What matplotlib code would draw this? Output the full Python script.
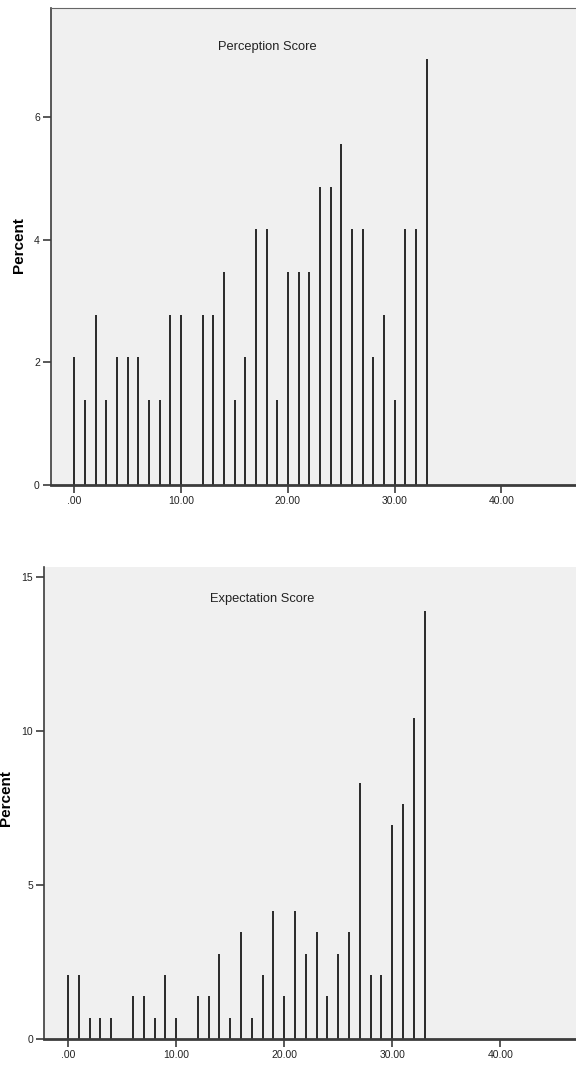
import matplotlib
matplotlib.use("Agg")
import matplotlib.pyplot as plt

# score values (0..33) and percent of cases
scores_p = [0, 1, 2, 3, 4, 5, 6, 7, 8, 9, 10, 12, 13, 14, 15, 16, 17, 18, 19, 20,
            21, 22, 23, 24, 25, 26, 27, 28, 29, 30, 31, 32, 33]
perception_pct = [2.08, 1.39, 2.78, 1.39, 2.08, 2.08, 2.08, 1.39, 1.39, 2.78, 2.78,
                  2.78, 2.78, 3.47, 1.39, 2.08, 4.17, 4.17, 1.39, 3.47, 3.47, 3.47,
                  4.86, 4.86, 5.56, 4.17, 4.17, 2.08, 2.78, 1.39, 4.17, 4.17, 6.94]

scores_e = [0, 1, 2, 3, 4, 6, 7, 8, 9, 10, 12, 13, 14, 15, 16, 17, 18, 19, 20,
            21, 22, 23, 24, 25, 26, 27, 28, 29, 30, 31, 32, 33]
expectation_pct = [2.08, 2.08, 0.69, 0.69, 0.69, 1.39, 1.39, 0.69, 2.08, 0.69,
                   1.39, 1.39, 2.78, 0.69, 3.47, 0.69, 2.08, 4.17, 1.39, 4.17,
                   2.78, 3.47, 1.39, 2.78, 3.47, 8.33, 2.08, 2.08, 6.94, 7.64,
                   10.42, 13.89]

x_ticks = [0, 10, 20, 30, 40]
x_labels = [".00", "10.00", "20.00", "30.00", "40.00"]

sans = ["Liberation Sans", "DejaVu Sans"]
bg = "#f0f0f0"
axc = "#3c3c3c"

fig = plt.figure(figsize=(5.76, 10.77), dpi=100)
ax1 = fig.add_axes([0.0885, 0.5497, 0.9115, 0.4429])
ax2 = fig.add_axes([0.0769, 0.0350, 0.9231, 0.4383])


def style(ax, xs, ys, title, yticks, ylim, tx, ty, top_line, lab_xy):
    ax.set_facecolor(bg)
    ax.vlines(xs, 0, ys, colors="#1a1a1a", linewidth=1.3)
    ax.set_xlim(-2.2, 47)
    ax.set_ylim(*ylim)
    ax.set_xticks(x_ticks)
    ax.set_xticklabels(x_labels, family=sans, fontsize=7.5, color="#222222")
    ax.set_yticks(yticks)
    ax.set_yticklabels([str(t) for t in yticks], family=sans, fontsize=7.5, color="#222222")
    ax.tick_params(axis="both", direction="out", length=6, width=1.2, color=axc, pad=2)
    ax.spines["right"].set_visible(False)
    ax.spines["top"].set_visible(top_line)
    ax.spines["top"].set_color("#666666")
    ax.spines["left"].set_color(axc)
    ax.spines["left"].set_linewidth(1.2)
    ax.spines["bottom"].set_color(axc)
    ax.spines["bottom"].set_linewidth(2)
    ax.set_ylabel("Percent", family=sans, fontweight="bold", fontsize=11)
    ax.yaxis.set_label_coords(*lab_xy)
    ax.text(tx, ty, title, transform=ax.transAxes, ha="center", va="center",
            family=sans, fontsize=9.3, color="#222222")


style(ax1, scores_p, perception_pct, "Perception Score", [0, 2, 4, 6], (0, 7.78),
      0.413, 0.918, True, (-0.048, 0.503))
style(ax2, scores_e, expectation_pct, "Expectation Score", [0, 5, 10, 15], (0, 15.32),
      0.41, 0.933, False, (-0.059, 0.511))

fig.savefig("out.png", dpi=100)
